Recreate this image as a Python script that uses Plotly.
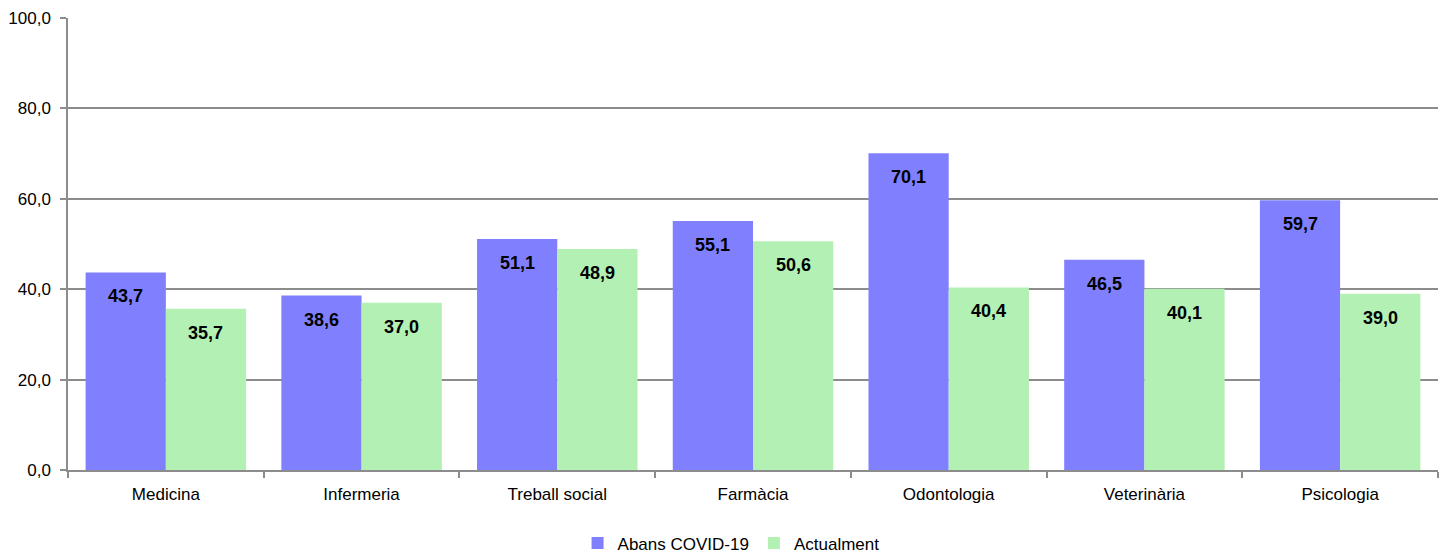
import plotly.graph_objects as go

categories = ["Medicina", "Infermeria", "Treball social", "Farmàcia", "Odontologia", "Veterinària", "Psicologia"]
abans = [43.7, 38.6, 51.1, 55.1, 70.1, 46.5, 59.7]
actual = [35.7, 37.0, 48.9, 50.6, 40.4, 40.1, 39.0]
series_names = ["Abans COVID-19", "Actualment"]
colors = ["#8080FF", "#B3F0B3"]

fig = go.Figure()
for name, vals, col in zip(series_names, [abans, actual], colors):
    fig.add_trace(go.Bar(x=categories, y=vals, name=name, marker_color=col,
                         marker_line_width=0))

label_font = dict(family="Liberation Sans, Arial", size=18, color="black", weight="bold")
for k, vals in enumerate([abans, actual]):
    off = -0.205 if k == 0 else 0.205
    for i, v in enumerate(vals):
        fig.add_annotation(x=i + off, y=v, xref="x", yref="y",
                           text=f"{v:.1f}".replace(".", ","), showarrow=False,
                           yanchor="top", yshift=-12, font=label_font)

fig.update_layout(
    width=1445, height=558,
    margin=dict(l=68, r=7, t=18, b=88),
    plot_bgcolor="white", paper_bgcolor="white",
    barmode="group", bargap=0.18, bargroupgap=0,
    separators=",.",
    font=dict(family="Liberation Sans, Arial", size=17, color="black"),
    legend=dict(orientation="h", x=0.484, xanchor="center", yref="container", y=0.026,
                yanchor="middle", font=dict(size=17), tracegroupgap=0, traceorder="normal"),
    showlegend=True,
)
fig.update_yaxes(range=[0, 100], dtick=20, tickformat=".1f", showgrid=True,
                 gridcolor="#8c8c8c", gridwidth=1.5, showline=True, linecolor="#8c8c8c",
                 linewidth=1.5, ticks="outside", ticklen=6, tickcolor="#8c8c8c", tickwidth=1.5,
                 zeroline=False, automargin=False, tickfont=dict(size=17), ticklabelstandoff=6)
fig.update_xaxes(showline=True, linecolor="#8c8c8c", linewidth=1.5, ticks="outside",
                 tickson="boundaries", ticklen=6, tickcolor="#8c8c8c", tickwidth=1.5,
                 showgrid=False, automargin=False, tickfont=dict(size=17), ticklabelstandoff=8)
fig.write_html("out.html", config={"displayModeBar": False},
               post_script="document.body.style.margin='0';document.body.style.overflow='hidden';")
